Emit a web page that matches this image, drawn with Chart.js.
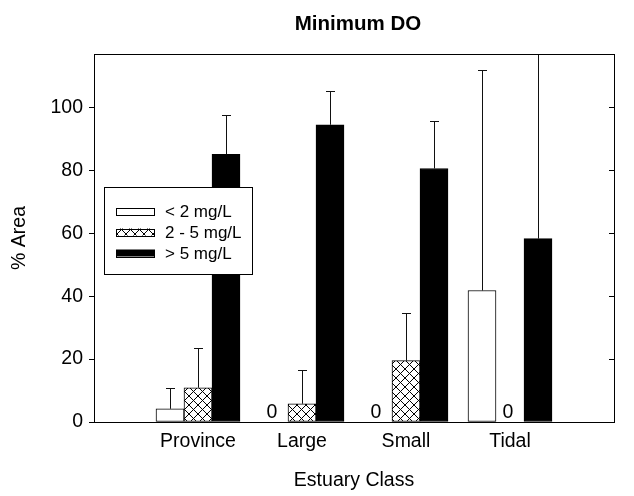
<!DOCTYPE html>
<html>
<head>
<meta charset="utf-8">
<script src="https://cdn.jsdelivr.net/npm/chart.js@4"></script>
<style>
  html, body { margin: 0; padding: 0; background: #fff; }
</style>
</head>
<body>
<canvas id="barChart" width="634" height="496"></canvas>
<script>
// values
const categories = ['Province', 'Large', 'Small', 'Tidal'];
const seriesNames = ['< 2 mg/L', '2 - 5 mg/L', '> 5 mg/L'];
const lowDO = [4.2, 0, 0, 41.8];
const midDO = [10.9, 5.8, 19.5, 0];
const highDO = [85.1, 94.5, 80.6, 58.3];
// upper end of the error bars (null = none drawn)
const lowDOUpper = [10.9, null, null, 112.0];
const midDOUpper = [23.6, 16.5, 34.7, null];
const highDOUpper = [97.6, 105.3, 95.8, 140];
const yTicks = [0, 20, 40, 60, 80, 100];

// blank slot either side so the groups sit one step in from the frame
const xLabels = [''].concat(categories, ['']);
const pad = arr => [null].concat(arr, [null]);

function makeHatch() {
    const c = document.createElement('canvas');
    c.width = 9; c.height = 9;
    const g = c.getContext('2d');
    g.fillStyle = '#fff';
    g.fillRect(0, 0, 9, 9);
    g.strokeStyle = '#000';
    g.lineWidth = 1;
    g.beginPath();
    g.moveTo(0, 0); g.lineTo(9, 9);
    g.moveTo(9, 0); g.lineTo(0, 9);
    g.stroke();
    return g.createPattern(c, 'repeat');
}
const hatch = makeHatch();

const uppers = [lowDOUpper, midDOUpper, highDOUpper];

const extras = {
    id: 'extras',
    afterDatasetsDraw(chart) {
        const ctx = chart.ctx;
        const area = chart.chartArea;
        const y = chart.scales.y;
        ctx.save();
        // error bars, clipped to the plot
        ctx.beginPath();
        ctx.rect(area.left, area.top, area.right - area.left, area.bottom - area.top);
        ctx.clip();
        ctx.strokeStyle = '#111';
        ctx.lineWidth = 1;
        chart.data.datasets.forEach((ds, i) => {
            const meta = chart.getDatasetMeta(i);
            meta.data.forEach((bar, j) => {
                const up = uppers[i][j - 1];
                if (j === 0 || up == null) return;
                const x = Math.round(bar.x) + 0.5;
                const y0 = y.getPixelForValue(ds.data[j]);
                const y1 = Math.round(y.getPixelForValue(up)) + 0.5;
                ctx.beginPath();
                ctx.moveTo(x, y0);
                ctx.lineTo(x, y1);
                ctx.moveTo(x - 4.5, y1);
                ctx.lineTo(x + 4.5, y1);
                ctx.stroke();
            });
        });
        ctx.restore();

        ctx.save();
        // title, centred over the plot
        ctx.fillStyle = '#000';
        ctx.font = 'bold 20.5px "Liberation Sans", Arial';
        ctx.textAlign = 'center';
        ctx.textBaseline = 'middle';
        ctx.fillText('Minimum DO', (area.left + area.right) / 2 + 4, 24);

        // zero labels
        ctx.font = '19.5px "Liberation Sans", Arial';
        ctx.textBaseline = 'bottom';
        chart.data.datasets.forEach((ds, i) => {
            const meta = chart.getDatasetMeta(i);
            meta.data.forEach((bar, j) => {
                if (ds.data[j] === 0) ctx.fillText('0', bar.x - 2, area.bottom);
            });
        });
        // frame
        ctx.strokeStyle = '#000';
        ctx.lineWidth = 1;
        ctx.strokeRect(Math.round(area.left) + 0.5, Math.round(area.top) + 0.5,
            Math.round(area.right - area.left), Math.round(area.bottom - area.top));
        // inward ticks on the right side
        ctx.beginPath();
        yTicks.forEach(v => {
            if (v === 0) return;
            const py = Math.round(y.getPixelForValue(v)) + 0.5;
            ctx.moveTo(area.right - 5, py);
            ctx.lineTo(area.right, py);
        });
        ctx.stroke();

        // legend box, opaque over the bars
        const lx = 104.5, ly = 187.5;
        ctx.fillStyle = '#fff';
        ctx.fillRect(lx, ly, 148, 87);
        ctx.strokeRect(lx, ly, 148, 87);
        ctx.font = '17px "Liberation Sans", Arial';
        ctx.textAlign = 'left';
        ctx.textBaseline = 'middle';
        chart.data.datasets.forEach((ds, i) => {
            const cy = 211 + i * 21;
            ctx.fillStyle = ds.backgroundColor;
            ctx.fillRect(116, cy - 3.5, 39, 7);
            ctx.strokeRect(116.5, Math.round(cy - 3.5) + 0.5, 38, 7);
            ctx.fillStyle = '#000';
            ctx.fillText(ds.label, 165, cy + 1);
        });
        ctx.restore();
    }
};

Chart.defaults.font.family = '"Liberation Sans", Arial, sans-serif';
Chart.defaults.font.size = 19.5;
Chart.defaults.color = '#000';

new Chart(document.getElementById('barChart').getContext('2d'), {
    type: 'bar',
    data: {
        labels: xLabels,
        datasets: [
            { label: seriesNames[0], data: pad(lowDO), backgroundColor: '#fff' },
            { label: seriesNames[1], data: pad(midDO), backgroundColor: hatch },
            { label: seriesNames[2], data: pad(highDO), backgroundColor: '#000' }
        ]
    },
    options: {
        responsive: false,
        animation: false,
        layout: { padding: { left: 0, right: 20, top: 54, bottom: 0 } },
        datasets: {
            bar: { barThickness: 28, borderColor: '#000', borderWidth: 1, borderSkipped: false }
        },
        plugins: {
            legend: { display: false },
            tooltip: { enabled: false },
            title: { display: false }
        },
        scales: {
            x: {
                offset: false,
                grid: { display: false, offset: false, drawTicks: false },
                border: { display: false },
                ticks: { padding: 8, maxRotation: 0, autoSkip: false },
                title: { display: true, text: 'Estuary Class', padding: { top: 0, bottom: 3.3 } },
                afterFit(scale) { scale.height = 74; }
            },
            y: {
                min: 0,
                max: 117,
                grid: { drawOnChartArea: false, drawTicks: true, tickLength: 5, color: '#000' },
                border: { display: false },
                ticks: { stepSize: 20, includeBounds: false, padding: 6 },
                title: { display: true, text: '% Area', padding: { top: 8.3, bottom: 0 } },
                afterFit(scale) { scale.width = 94; }
            }
        }
    },
    plugins: [extras]
});
</script>
</body>
</html>
